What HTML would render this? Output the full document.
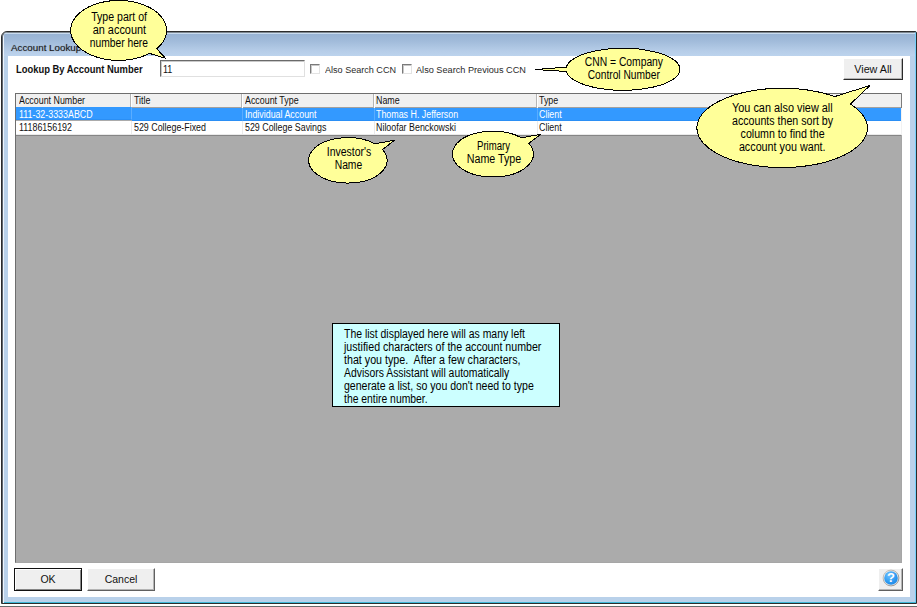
<!DOCTYPE html>
<html>
<head>
<meta charset="utf-8">
<title>Account Lookup</title>
<style>
html,body{margin:0;padding:0;background:#fff;}
body{width:917px;height:607px;position:relative;overflow:hidden;font-family:"Liberation Sans",sans-serif;color:#000;}
.abs{position:absolute;}
.t{position:absolute;white-space:pre;line-height:1;transform-origin:0 0;}
#win{position:absolute;left:1px;top:31px;width:914px;height:571px;border:1px solid #2c2c2c;border-radius:6px 2px 0 0;
 background:#b9d1ea;box-shadow:inset 1px 0 0 #5d6670,inset 2px 0 0 #eef4fb,inset 0 -1px 0 #3fb8d8,inset -1px 0 0 #74d0fb;}
#titlebar{position:absolute;left:2px;top:0;width:911px;height:24px;border-radius:4px 1px 0 0;
 background:linear-gradient(#7d8791 0,#7d8791 1px,#c9dbee 1px,#c9dbee 2px,#98b3d4 2px,#a1bbda 9px,#b6cde8 19px,#bcd3ed 24px);}
#client{position:absolute;left:6px;top:24px;width:902px;height:541px;background:#fff;}
#grid{position:absolute;left:15px;top:93px;width:885px;height:468px;border:1px solid #6e6e6e;background:#ababab;border-right-color:#a6a6a6;border-bottom-color:#a6a6a6;}
.hdr{position:absolute;top:0;height:13px;background:#f0f0f0;border-right:1px solid #b5b5b5;border-bottom:1px solid #a3a09e;box-shadow:1px 0 0 #fff;}
.cell{position:absolute;height:13px;background:#fff;border-right:1px solid #eaeaea;border-bottom:1px solid #eaeaea;}
.sel{background:#3399ff;border-color:#2b8ff5;border-right-color:#5aadff;height:12px;}
.gt{position:absolute;white-space:pre;font-size:10px;line-height:1;transform-origin:0 0;transform:scaleX(.887);color:#111;}
.btn{position:absolute;box-sizing:border-box;background:#efefef;border:1px solid;border-color:#fff #606060 #606060 #fff;box-shadow:inset -1px -1px 0 #b4b4b4;}
.btn span{position:absolute;left:0;right:0;text-align:center;font-size:10.5px;line-height:1;color:#111;}
.chk{position:absolute;box-sizing:border-box;width:10px;height:10px;background:#fff;border:1px solid;border-color:#7a7a7a #e3e3e3 #e3e3e3 #7a7a7a;box-shadow:inset 1px 1px 0 #c8c8c8;}
</style>
</head>
<body>
<div id="win">
  <div id="titlebar"></div>
  <div class="t" style="left:9.4px;top:11.4px;font-size:9.6px;color:#1a1a1a;transform:scaleX(1.02);text-shadow:0 0 1px rgba(40,40,40,.45)">Account Lookup</div>
  <div id="client"></div>
</div>
<div class="abs" style="left:0;top:606px;width:917px;height:1px;background:#6b6b6b"></div>

<!-- lookup row -->
<div class="t" style="left:16px;top:65px;font-size:10px;font-weight:bold;transform:scaleX(.94);color:#111">Lookup By Account Number</div>
<div class="abs" id="input" style="left:160px;top:60px;width:143px;height:15px;background:#fff;border:1px solid;border-color:#6a6a6a #e0e0e0 #e0e0e0 #6a6a6a;box-shadow:inset 1px 1px 0 #c9c9c9"></div>
<div class="t" style="left:163px;top:65px;font-size:10px;color:#111;transform:scaleX(.9)">11</div>
<div class="chk" style="left:310px;top:64px"></div>
<div class="t" style="left:325px;top:65.4px;font-size:9.6px;color:#2a2a2a;transform:scaleX(.944)">Also Search CCN</div>
<div class="chk" style="left:402px;top:64px"></div>
<div class="t" style="left:416px;top:65.4px;font-size:9.6px;color:#2a2a2a;transform:scaleX(.954)">Also Search Previous CCN</div>
<div class="btn" style="left:843px;top:58px;width:60px;height:22px;border-color:#fff #2a2a2a #2a2a2a #fff"><span style="top:4.6px;font-size:11.3px;left:0;transform:scaleX(.95)">View All</span></div>

<!-- grid -->
<div id="grid">
  <div class="hdr" style="left:0;width:114px"></div>
  <div class="hdr" style="left:116px;width:109px"></div>
  <div class="hdr" style="left:227px;width:130px"></div>
  <div class="hdr" style="left:359px;width:161px"></div>
  <div class="hdr" style="left:522px;width:363px;border-right:0;box-shadow:none"></div>
  <div class="abs" style="left:885px;top:0;width:1px;height:14px;background:#7c7c7c"></div>
  <div class="abs" style="left:885px;top:14px;width:1px;height:27px;background:#f2f2f2"></div>
  <div class="abs" style="left:0;top:41px;width:885px;height:1px;background:#858585"></div>
  <div class="cell sel" style="left:0;top:13px;width:115px"></div>
  <div class="cell sel" style="left:116px;top:14px;width:110px"></div>
  <div class="cell sel" style="left:227px;top:14px;width:131px"></div>
  <div class="cell sel" style="left:359px;top:14px;width:162px"></div>
  <div class="cell sel" style="left:522px;top:14px;width:363px;border-right:0"></div>
  <div class="cell" style="left:0;top:27px;width:115px"></div>
  <div class="cell" style="left:116px;top:27px;width:110px"></div>
  <div class="cell" style="left:227px;top:27px;width:131px"></div>
  <div class="cell" style="left:359px;top:27px;width:162px"></div>
  <div class="cell" style="left:522px;top:27px;width:363px;border-right:0"></div>

  <div class="gt" style="left:3px;top:2px">Account Number</div>
  <div class="gt" style="left:118px;top:2px">Title</div>
  <div class="gt" style="left:229px;top:2px">Account Type</div>
  <div class="gt" style="left:360px;top:2px">Name</div>
  <div class="gt" style="left:522.5px;top:2px">Type</div>
  <div class="gt" style="left:3px;top:16px;color:#fff">111-32-3333ABCD</div>
  <div class="gt" style="left:229px;top:16px;color:#fff">Individual Account</div>
  <div class="gt" style="left:360px;top:16px;color:#fff">Thomas H. Jefferson</div>
  <div class="gt" style="left:522.5px;top:16px;color:#fff">Client</div>
  <div class="gt" style="left:3px;top:29px">11186156192</div>
  <div class="gt" style="left:118px;top:29px">529 College-Fixed</div>
  <div class="gt" style="left:229px;top:29px">529 College Savings</div>
  <div class="gt" style="left:360px;top:29px">Niloofar Benckowski</div>
  <div class="gt" style="left:522.5px;top:29px">Client</div>
</div>

<!-- bottom buttons -->
<div class="btn" style="left:14px;top:568px;width:68px;height:23px;border-color:#111;box-shadow:inset 1px 1px 0 #fff,inset -1px -1px 0 #858585"><span style="top:5px">OK</span></div>
<div class="btn" style="left:87px;top:568px;width:68px;height:23px"><span style="top:5px">Cancel</span></div>
<div class="btn" style="left:878px;top:568px;width:25px;height:23px">
  <svg width="18" height="18" viewBox="0 0 18 18" style="position:absolute;left:2.7px;top:.2px">
    <defs><radialGradient id="hg" cx="38%" cy="30%" r="80%"><stop offset="0" stop-color="#6fc0ff"/><stop offset=".6" stop-color="#2f9cf2"/><stop offset="1" stop-color="#1b82e2"/></radialGradient>
    <linearGradient id="hr" x1="0" y1="0" x2="1" y2="1"><stop offset="0" stop-color="#cfcac4"/><stop offset="1" stop-color="#8a8a8a"/></linearGradient></defs>
    <circle cx="9" cy="9" r="7.9" fill="#ecebe9" stroke="url(#hr)" stroke-width="1"/>
    <circle cx="9" cy="9" r="6.8" fill="url(#hg)"/>
    <text x="9" y="13.1" text-anchor="middle" font-family="Liberation Sans,sans-serif" font-weight="bold" font-size="13" fill="#fff">?</text>
  </svg>
</div>

<!-- annotations -->
<svg class="abs" style="left:0;top:0" width="917" height="607" viewBox="0 0 917 607" font-family="Liberation Sans,sans-serif" font-size="12" fill="#000">
  <g fill="#ffff99" stroke="#000" stroke-width="1" shape-rendering="crispEdges">
    <!-- callout 1 -->
    <path id="c1" d="M149.5 53.4A48 30 0 1 1 156.7 48.7L165.4 58.2Z"/>
    <path id="c2" d="M566.3 67.1A57 21 0 1 1 566.3 71.5L535.3 69.5Z"/>
    <path id="c3" d="M850.4 104.1A85.3 39.7 0 1 1 834.6 96.6L870 85.5Z"/>
    <path id="c4" d="M382.5 149.6A39.3 22.7 0 1 1 374.8 143.8L394.5 140.2Z"/>
    <path id="c5" d="M528.7 143.3A40.6 22.9 0 1 1 521.6 137.9L540.8 134.2Z"/>
  </g>
  <rect x="332.5" y="323.5" width="227" height="83" fill="#ccffff" stroke="#000" stroke-width="1"/>
  <text x="91.2" y="21" textLength="55.8" lengthAdjust="spacingAndGlyphs" xml:space="preserve">Type part of</text>
  <text x="92.7" y="34" textLength="53.4" lengthAdjust="spacingAndGlyphs" xml:space="preserve">an account</text>
  <text x="89.8" y="47" textLength="58.2" lengthAdjust="spacingAndGlyphs" xml:space="preserve">number here</text>
  <text x="584.8" y="66" textLength="78.2" lengthAdjust="spacingAndGlyphs" xml:space="preserve">CNN = Company</text>
  <text x="587.7" y="79" textLength="72.1" lengthAdjust="spacingAndGlyphs" xml:space="preserve">Control Number</text>
  <text x="732" y="112" textLength="100.7" lengthAdjust="spacingAndGlyphs" xml:space="preserve">You can also view all</text>
  <text x="732" y="125" textLength="101.1" lengthAdjust="spacingAndGlyphs" xml:space="preserve">accounts then sort by</text>
  <text x="740.6" y="138" textLength="84.0" lengthAdjust="spacingAndGlyphs" xml:space="preserve">column to find the</text>
  <text x="738.9" y="151" textLength="86.7" lengthAdjust="spacingAndGlyphs" xml:space="preserve">account you want.</text>
  <text x="326.8" y="156" textLength="44.5" lengthAdjust="spacingAndGlyphs" xml:space="preserve">Investor's</text>
  <text x="334.7" y="169" textLength="27.5" lengthAdjust="spacingAndGlyphs" xml:space="preserve">Name</text>
  <text x="477" y="150" textLength="33.0" lengthAdjust="spacingAndGlyphs" xml:space="preserve">Primary</text>
  <text x="466.8" y="163" textLength="54.4" lengthAdjust="spacingAndGlyphs" xml:space="preserve">Name Type</text>
  <text x="344" y="338" textLength="181.0" lengthAdjust="spacingAndGlyphs" xml:space="preserve">The list displayed here will as many left</text>
  <text x="344" y="351" textLength="197.4" lengthAdjust="spacingAndGlyphs" xml:space="preserve">justified characters of the account number</text>
  <text x="344" y="364" textLength="176.5" lengthAdjust="spacingAndGlyphs" xml:space="preserve">that you type.  After a few characters,</text>
  <text x="344" y="377" textLength="165.3" lengthAdjust="spacingAndGlyphs" xml:space="preserve">Advisors Assistant will automatically</text>
  <text x="344" y="390" textLength="189.8" lengthAdjust="spacingAndGlyphs" xml:space="preserve">generate a list, so you don't need to type</text>
  <text x="344" y="403" textLength="83.6" lengthAdjust="spacingAndGlyphs" xml:space="preserve">the entire number.</text>
</svg>
</body>
</html>
